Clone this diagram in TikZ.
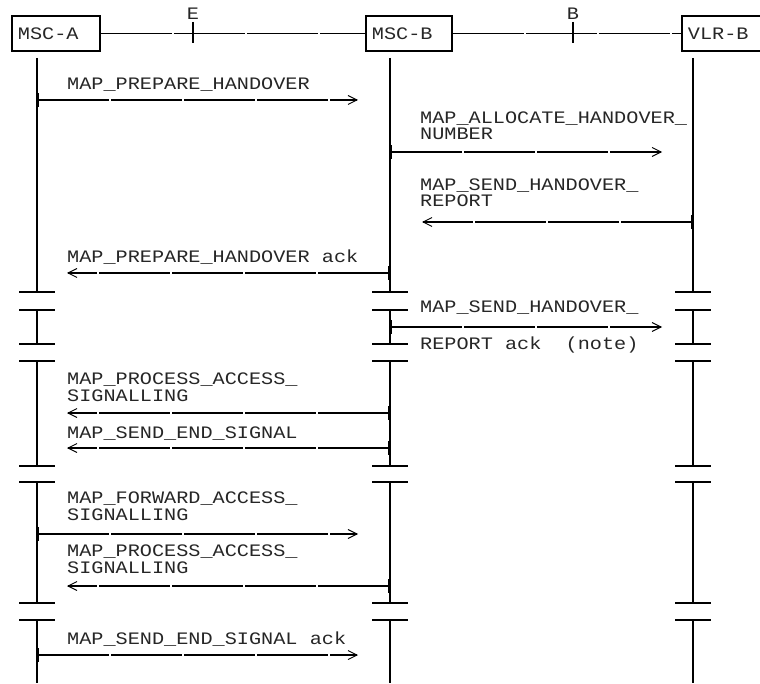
\documentclass[tikz,border=0pt]{standalone}
\usepackage{fontspec}
\setmonofont[FakeStretch=1.155]{Liberation Mono}
\usetikzlibrary{arrows.meta}

\tikzset{
    ttlabel/.style={font=\ttfamily\fontsize{17.5}{16.5}\selectfont, text=black!85},
    msgtext/.style={ttlabel, inner sep=0pt, anchor=base west, align=left},
    entity/.style={ttlabel, draw, line width=1.8pt, minimum height=35pt, inner xsep=6pt, inner ysep=0pt, anchor=north west, align=left},
    msg/.style={line width=1.8pt, dash pattern=on 71pt off 2pt, {Bar[width=14pt,line width=1.6pt]}-{Straight Barb[length=9pt,width=9pt,line width=0.9pt]}},
    life/.style={line width=1.3pt},
    brk/.style={line width=2pt},
    iface/.style={line width=1pt, dash pattern=on 71pt off 2pt},
}

\begin{document}
\begin{tikzpicture}[x=1pt, y=-1pt]
        \useasboundingbox (0,0) rectangle (760,684);

        % Entities
        \node[entity, text width=76pt] (mscA) at (11,15) {MSC-A};
        \node[entity, text width=74pt] (mscB) at (365,15) {MSC-B};
        \node[entity, text width=88pt] (vlrB) at (681,15) {VLR-B};

        % Interfaces E and B
        \draw[iface] (mscA.east) -- (mscB.west);
        \draw[iface] (mscB.east) -- (vlrB.west);
        \node[ttlabel, anchor=base, inner sep=0pt] (ifE) at (193,20) {E};
        \node[ttlabel, anchor=base, inner sep=0pt] (ifB) at (573,20) {B};
        \draw[brk] (193,22) -- (193,43);
        \draw[brk] (573,22) -- (573,43);

        % Lifelines, cut at the breaks
        \foreach \x in {37,390,693} {
            \foreach \a/\b in {58/292, 310/344, 361/466, 482/603, 620/683} {
                \draw[life] (\x,\a) -- (\x,\b);
            }
            \foreach \y in {292,310,344,361,466,482,603,620} {
                \draw[brk] (\x-18,\y) -- (\x+18,\y);
            }
        }

        % Messages: number / y / from / to
        \foreach \n/\y/\xs/\xe in {1/100/37/358, 2/152/390/662, 3/222/693/422,
                4/273/390/67, 5/327/390/662, 6/413/390/67, 7/448/390/67,
                8/534/37/358, 9/586/390/67, 10/655/37/358} {
            \coordinate (s\n) at (\xs,\y);
            \coordinate (e\n) at (\xe,\y);
            \draw[msg] (s\n) -- (e\n);
        }

        % --- Handover preparation ---
        \node[msgtext] (t1) at (67,90) {MAP\_PREPARE\_HANDOVER};
        \node[msgtext] (t2) at (420,140) {MAP\_ALLOCATE\_HANDOVER\_\\NUMBER};
        \node[msgtext] (t3) at (420,207) {MAP\_SEND\_HANDOVER\_\\REPORT};
        \node[msgtext] (t4) at (67,263) {MAP\_PREPARE\_HANDOVER ack};

        % --- Handover report ack ---
        \node[msgtext] (t5a) at (420,313) {MAP\_SEND\_HANDOVER\_};
        \node[msgtext] (t5b) at (420,349) {REPORT ack\ \ (note)};

        % --- Access signalling ---
        \node[msgtext] (t6) at (67,401) {MAP\_PROCESS\_ACCESS\_\\SIGNALLING};
        \node[msgtext] (t7) at (67,438) {MAP\_SEND\_END\_SIGNAL};
        \node[msgtext] (t8) at (67,520) {MAP\_FORWARD\_ACCESS\_\\SIGNALLING};
        \node[msgtext] (t9) at (67,573) {MAP\_PROCESS\_ACCESS\_\\SIGNALLING};
        \node[msgtext] (t10) at (67,644) {MAP\_SEND\_END\_SIGNAL ack};
\end{tikzpicture}
\end{document}
